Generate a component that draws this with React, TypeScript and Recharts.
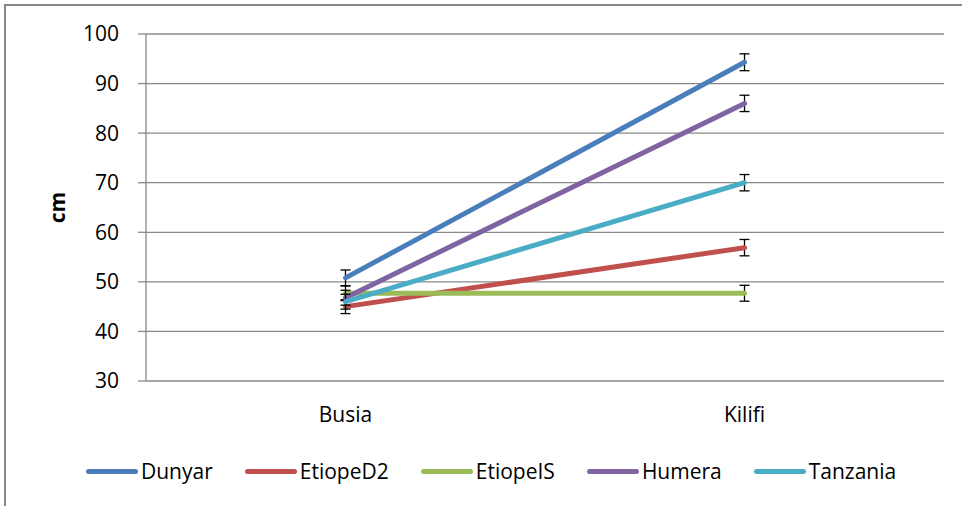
import React from 'react';
import {
    CartesianGrid,
    ErrorBar,
    Legend,
    Line,
    LineChart,
    XAxis,
    YAxis
} from "recharts";

const categories = ['Busia', 'Kilifi'];
const seriesNames = ['Dunyar', 'EtiopeD2', 'EtiopeIS', 'Humera', 'Tanzania'];
const seriesColors = ['#4a7ebb', '#c0504d', '#9bbb59', '#8064a2', '#4bacc6'];

const dunyar = [50.8, 94.3];
const etiopeD2 = [45.0, 56.9];
const etiopeIS = [47.7, 47.7];
const humera = [46.8, 86.0];
const tanzania = [46.0, 70.0];

const dunyarErr = [1.6, 1.7];
const etiopeD2Err = [1.4, 1.65];
const etiopeISErr = [1.5, 1.6];
const humeraErr = [1.5, 1.65];
const tanzaniaErr = [1.5, 1.65];

const yTicks = [30, 40, 50, 60, 70, 80, 90, 100];
const edgeTicks = [0, 1, 2];

const values = [dunyar, etiopeD2, etiopeIS, humera, tanzania];
const errors = [dunyarErr, etiopeD2Err, etiopeISErr, humeraErr, tanzaniaErr];

const data = categories.map((cat, i) => {
    const row: any = { cat, edge: i * 2 };
    seriesNames.forEach((name, s) => {
        row[name] = values[s][i];
        row[name + 'Err'] = errors[s][i];
    });
    return row;
});

const FONT = '"Open Sans", sans-serif';
const GRAY = '#898989';

const LegendContent = () => (
    <div style={{ display: 'flex', alignItems: 'center', height: 30, paddingLeft: 86, gap: 32, fontFamily: FONT, fontSize: 21, color: '#000' }}>
        {seriesNames.map((name, i) => (
            <div key={name} style={{ display: 'flex', alignItems: 'center' }}>
                <div style={{ width: 52, height: 5, borderRadius: 3, background: seriesColors[i], marginRight: 3 }} />
                <span>{name}</span>
            </div>
        ))}
    </div>
);

export default function App() {
    return (
        <div style={{ position: 'absolute', left: 0, top: 0, width: 962, height: 506, overflow: 'hidden', background: '#fff' }}>
            <div style={{ position: 'absolute', left: 4, top: 4, width: 1000, height: 600, borderLeft: `2px solid ${GRAY}`, borderTop: `2px solid ${GRAY}` }} />
            <div style={{ position: 'absolute', left: 0, top: 0 }}>
                <LineChart width={962} height={506} data={data} margin={{ top: 34, right: 18, left: 0, bottom: 45 }}>
                    <CartesianGrid vertical={false} stroke={GRAY} strokeWidth={1.3} />
                    <XAxis
                        xAxisId="edges"
                        dataKey="edge"
                        type="number"
                        domain={[0, 2]}
                        ticks={edgeTicks}
                        tick={false}
                        tickSize={8}
                        height={0}
                        stroke={GRAY}
                        strokeWidth={1.3}
                    />
                    <XAxis
                        dataKey="cat"
                        scale="band"
                        axisLine={false}
                        tickLine={false}
                        tickSize={0}
                        tickMargin={26}
                        height={50}
                        tick={{ fill: '#000', fontSize: 21, fontFamily: FONT }}
                    />
                    <YAxis
                        width={146}
                        domain={[30, 100]}
                        ticks={yTicks}
                        tickSize={8}
                        tickMargin={19}
                        stroke={GRAY}
                        strokeWidth={1.3}
                        tick={{ fill: '#000', fontSize: 21, fontFamily: FONT }}
                        label={{ value: 'cm', angle: -90, position: 'center', dx: -15, style: { fontFamily: FONT, fontSize: 21, fontWeight: 700, fill: '#000' } }}
                    />
                    <Legend verticalAlign="bottom" content={<LegendContent />} wrapperStyle={{ bottom: 20, left: 0, width: 962 }} />
                    {seriesNames.map((name, i) => (
                        <Line
                            key={name}
                            dataKey={name}
                            name={name}
                            stroke={seriesColors[i]}
                            strokeWidth={5}
                            strokeLinecap="round"
                            dot={false}
                            activeDot={false}
                            isAnimationActive={false}
                        >
                            <ErrorBar dataKey={name + 'Err'} direction="y" width={5} stroke="#000" strokeWidth={1.3} isAnimationActive={false} />
                        </Line>
                    ))}
                </LineChart>
            </div>
        </div>
    );
}
